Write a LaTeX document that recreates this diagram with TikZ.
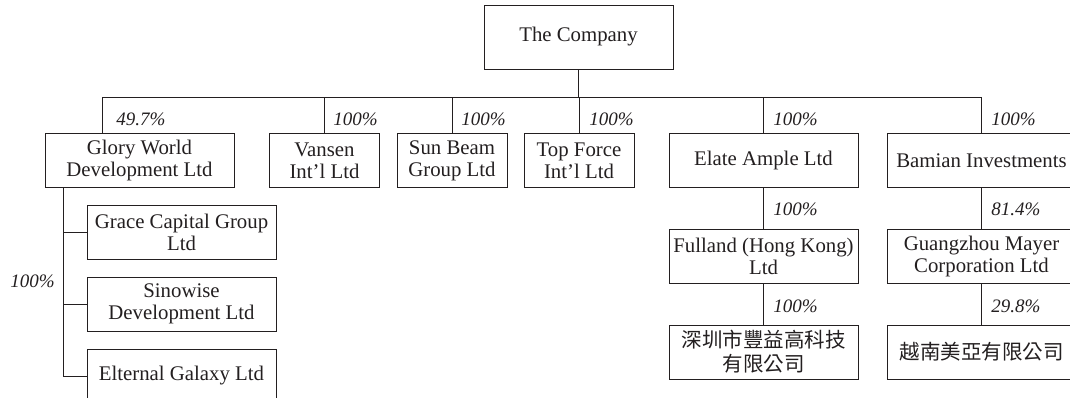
\documentclass[tikz,border=0pt]{standalone}
\usepackage{fontspec}
\setmainfont{Liberation Serif}
\newfontfamily\cjk{Noto Sans CJK TC}
\usepackage{tikz}
\usetikzlibrary{calc}
\definecolor{ink}{HTML}{231F20}

\begin{document}
\begin{tikzpicture}[x=1pt, y=-1pt, line width=0.9pt, draw=ink, text=ink,
  font=\fontsize{20.8}{22}\selectfont,
  orgbox/.style={draw, rectangle, minimum width=189pt, minimum height=54pt, align=center, inner sep=2pt},
  smallbox/.style={orgbox, minimum width=110pt},
  cjkbox/.style={orgbox, font=\fontsize{20.5}{24}\selectfont\cjk},
  pct/.style={anchor=west, inner sep=0pt, font=\fontsize{19}{20}\selectfont\itshape}]
\useasboundingbox (0,0) rectangle (1070,397);
\node[orgbox, minimum height=64pt] (0) at (578.5,37) {The Company};
\node[orgbox] (1) at (139.5,160.5) {Glory World\\Development Ltd};
\node[smallbox] (2) at (324.5,160.5) {Vansen\\Int'l Ltd};
\node[smallbox] (3) at (452,160.5) {Sun Beam\\Group Ltd};
\node[smallbox] (4) at (579,160.5) {Top Force\\Int'l Ltd};
\node[orgbox] (5) at (763.5,160.5) {Elate Ample Ltd};
\node[orgbox] (6) at (981.5,160.5) {Bamian Investments};
\node[orgbox] (7) at (181.5,232) {Grace Capital Group\\Ltd};
\node[orgbox] (8) at (181.5,304) {Sinowise\\Development Ltd};
\node[orgbox] (9) at (181.5,376) {Elternal Galaxy Ltd};
\node[orgbox] (10) at (763.5,256) {Fulland (Hong Kong)\\Ltd};
\node[cjkbox] (11) at (763.5,352) {深圳市豐益高科技\\有限公司};
\node[orgbox] (12) at (981.5,256) {Guangzhou Mayer\\Corporation Ltd};
\node[cjkbox] (13) at (981.5,352) {越南美亞有限公司};
\coordinate (bus) at (0,97);
\coordinate (g) at (102,133);
\coordinate (s) at (63,188);
\draw (0.south) -- (0.south |- bus);
\draw (g) |- (6.north |- bus) -- (6.north);
\draw (2.north) -- (2.north |- bus);
\draw (3.north) -- (3.north |- bus);
\draw (4.north) -- (4.north |- bus);
\draw (5.north) -- (5.north |- bus);
\draw (s) |- (9.west);
\draw (s |- 7.west) -- (7.west);
\draw (s |- 8.west) -- (8.west);
\draw (5.south) -- (10.north);
\draw (10.south) -- (11.north);
\draw (6.south) -- (12.north);
\draw (12.south) -- (13.north);
\node[pct] (p1) at (116,119) {49.7\%};
\node[pct] (p2) at (333,119) {100\%};
\node[pct] (p3) at (461,119) {100\%};
\node[pct] (p4) at (589,119) {100\%};
\node[pct] (p5) at (773,119) {100\%};
\node[pct] (p6) at (991,119) {100\%};
\node[pct] (p7) at (10,281) {100\%};
\node[pct] (p8) at (773,209) {100\%};
\node[pct] (p9) at (773,306) {100\%};
\node[pct] (p10) at (991,209) {81.4\%};
\node[pct] (p11) at (991,306) {29.8\%};
\end{tikzpicture}
\end{document}
